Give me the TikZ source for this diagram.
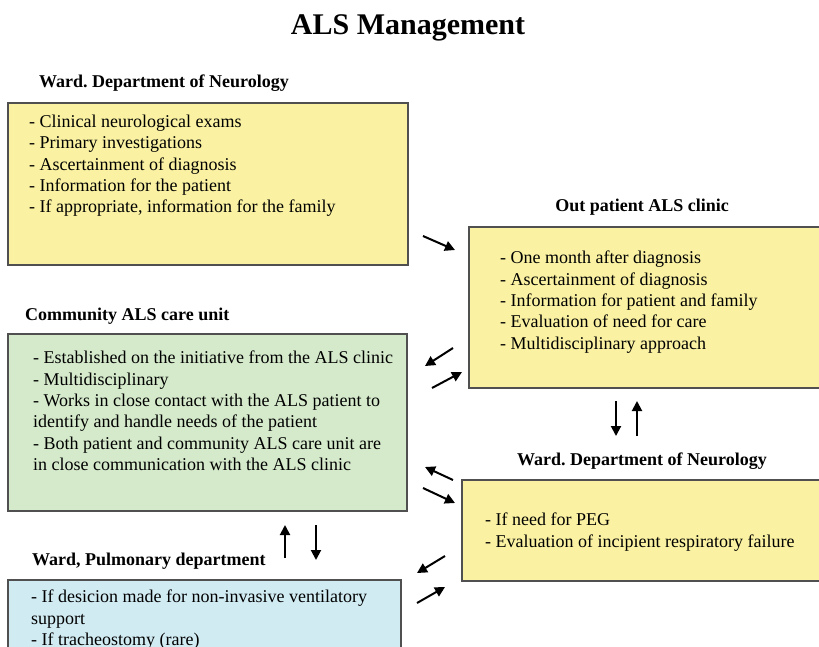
\documentclass[tikz,border=0pt]{standalone}
\usepackage{fontspec}
\setmainfont{Liberation Serif}
\usetikzlibrary{arrows.meta}
\frenchspacing
\definecolor{boxyellow}{HTML}{FAF2A2}
\definecolor{boxgreen}{HTML}{D5EACB}
\definecolor{boxblue}{HTML}{D1EBF3}
\definecolor{boxedge}{HTML}{505050}
\tikzset{
  box/.style={draw=boxedge, line width=1.4pt, rectangle},
  txt/.style={inner sep=0pt, align=left, font=\fontsize{18pt}{21.3pt}\selectfont},
  lbl/.style={inner sep=0pt, font=\fontsize{18pt}{21.3pt}\selectfont\bfseries},
  arr/.style={line width=2pt, -{Triangle[length=10pt,width=10pt]}}
}
\begin{document}
\begin{tikzpicture}[x=1pt,y=-1pt]
\useasboundingbox (0,0) rectangle (819,646);
\clip (0,0) rectangle (819,646);
% title
\node[inner sep=0pt, anchor=base, font=\fontsize{30pt}{34pt}\selectfont\bfseries] (title) at (408,34) {ALS Management};
% boxes
\draw[box, fill=boxyellow] (8,103) rectangle (408,265);
\draw[box, fill=boxyellow] (469,227) rectangle (830,388);
\draw[box, fill=boxgreen] (8,334) rectangle (407,511);
\draw[box, fill=boxyellow] (462,480) rectangle (830,581);
\draw[box, fill=boxblue] (8,580) rectangle (401,670);
% labels
\node[lbl, anchor=base west] (l1) at (39,87) {Ward. Department of Neurology};
\node[lbl, anchor=base] (l2) at (642,211) {Out patient ALS clinic};
\node[lbl, anchor=base west] (l3) at (25,320) {Community ALS care unit};
\node[lbl, anchor=base] (l4) at (642,465) {Ward. Department of Neurology};
\node[lbl, anchor=base west] (l5) at (32,565) {Ward, Pulmonary department};
% texts
\node[txt, anchor=north west] (t1) at (29,115) {- Clinical neurological exams\\- Primary investigations\\- Ascertainment of diagnosis\\- Information for the patient\\- If appropriate, information for the family};
\node[txt, anchor=north west] (t2) at (500,251) {- One month after diagnosis\\- Ascertainment of diagnosis\\- Information for patient and family\\- Evaluation of need for care\\- Multidisciplinary approach};
\node[txt, anchor=north west] (t3) at (33,351) {- Established on the initiative from the ALS clinic\\- Multidisciplinary\\- Works in close contact with the ALS patient to\\identify and handle needs of the patient\\- Both patient and community ALS care unit are\\in close communication with the ALS clinic};
\node[txt, anchor=north west] (t4) at (485,513) {- If need for PEG\\- Evaluation of incipient respiratory failure};
\node[txt, anchor=north west] (t5) at (31,590) {- If desicion made for non-invasive ventilatory\\support\\- If tracheostomy (rare)};
% arrow end points
\coordinate (a1s) at (423,236); \coordinate (a1e) at (455,250);
\coordinate (a2s) at (453,348); \coordinate (a2e) at (425,366);
\coordinate (a3s) at (432,388); \coordinate (a3e) at (462,372);
\coordinate (a4s) at (616,401); \coordinate (a4e) at (616,436);
\coordinate (a5s) at (637,436); \coordinate (a5e) at (637,401);
\coordinate (a6s) at (453,480); \coordinate (a6e) at (425,467);
\coordinate (a7s) at (423,488); \coordinate (a7e) at (455,503);
\coordinate (a8s) at (445,556); \coordinate (a8e) at (417,573);
\coordinate (a9s) at (417,603); \coordinate (a9e) at (445,587);
\coordinate (a10s) at (285,558); \coordinate (a10e) at (285,525);
\coordinate (a11s) at (316,525); \coordinate (a11e) at (316,560);
\foreach \i in {1,...,11} \draw[arr] (a\i s) -- (a\i e);
\end{tikzpicture}
\end{document}
